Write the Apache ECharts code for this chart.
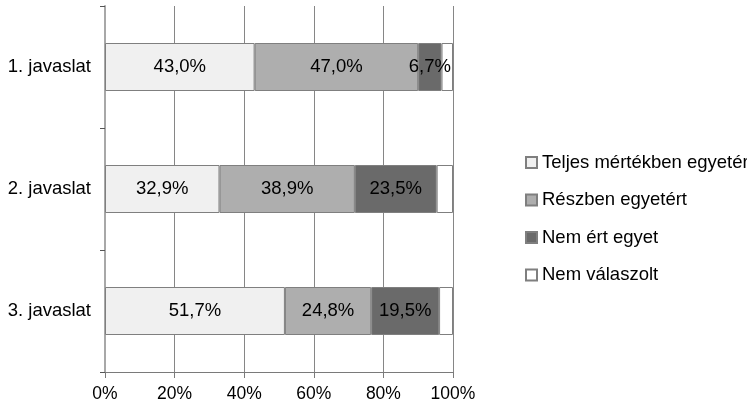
<!DOCTYPE html>
<html>
<head>
<meta charset="utf-8">
<script src="https://cdn.jsdelivr.net/npm/echarts@6/dist/echarts.min.js"></script>
<style>
  html, body { margin: 0; padding: 0; background: #fff; }
  #main { width: 747px; height: 413px; }
</style>
</head>
<body>
<div id="main"></div>
<script>
const categories = ['1. javaslat', '2. javaslat', '3. javaslat']
const seriesNames = ['Teljes mértékben egyetért', 'Részben egyetért', 'Nem ért egyet', 'Nem válaszolt']
const teljes = [43.0, 32.9, 51.7]
const reszben = [47.0, 38.9, 24.8]
const nemErt = [6.7, 23.5, 19.5]
const nemValaszolt = [3.3, 4.7, 4.0]
const colors = ['#f0f0f0', '#aeaeae', '#6a6a6a', '#ffffff']

const font = 'Liberation Sans, Arial, sans-serif'

function pct(p) {
    return p.value.toFixed(1).replace('.', ',') + '%'
}

const myChart = echarts.init(document.getElementById('main'))

const allData = [teljes, reszben, nemErt, nemValaszolt]
const series = allData.map((data, i) => {
    return {
        name: seriesNames[i],
        type: 'bar',
        stack: 'total',
        barWidth: 48,
        data: data,
        itemStyle: {
            color: colors[i],
            borderColor: '#7f7f7f',
            borderWidth: 1
        },
        label: {
            show: i < 3,
            position: 'inside',
            color: '#000',
            fontSize: 18.5,
            fontFamily: font,
            formatter: pct
        },
        emphasis: { disabled: true }
    }
})

myChart.setOption({
    animation: false,
    backgroundColor: '#fff',
    textStyle: { fontFamily: font },
    grid: {
        left: 105,
        right: 294,
        top: 6,
        bottom: 41,
        containLabel: false
    },
    legend: {
        orient: 'vertical',
        left: 520,
        top: 148,
        itemWidth: 11,
        itemHeight: 11,
        itemGap: 18.5,
        icon: 'rect',
        data: seriesNames,
        textStyle: {
            fontSize: 18.5,
            fontFamily: font,
            color: '#000'
        }
    },
    xAxis: {
        type: 'value',
        min: 0,
        max: 100,
        interval: 20,
        axisLine: { show: true, lineStyle: { color: '#7a7a7a', width: 1 } },
        axisTick: { show: true, length: 6, lineStyle: { color: '#7a7a7a' } },
        axisLabel: {
            formatter: '{value}%',
            fontSize: 17.5,
            fontFamily: font,
            color: '#000',
            margin: 13
        },
        splitLine: { show: true, lineStyle: { color: '#868686', width: 1 } }
    },
    yAxis: {
        type: 'category',
        inverse: true,
        data: categories,
        axisLine: { show: true, lineStyle: { color: '#a8a8a8', width: 2 } },
        axisTick: { show: true, length: 5, lineStyle: { color: '#555' } },
        axisLabel: {
            fontSize: 18.5,
            fontFamily: font,
            color: '#000',
            margin: 14
        },
        splitLine: { show: false }
    },
    series: series
})
</script>
</body>
</html>
